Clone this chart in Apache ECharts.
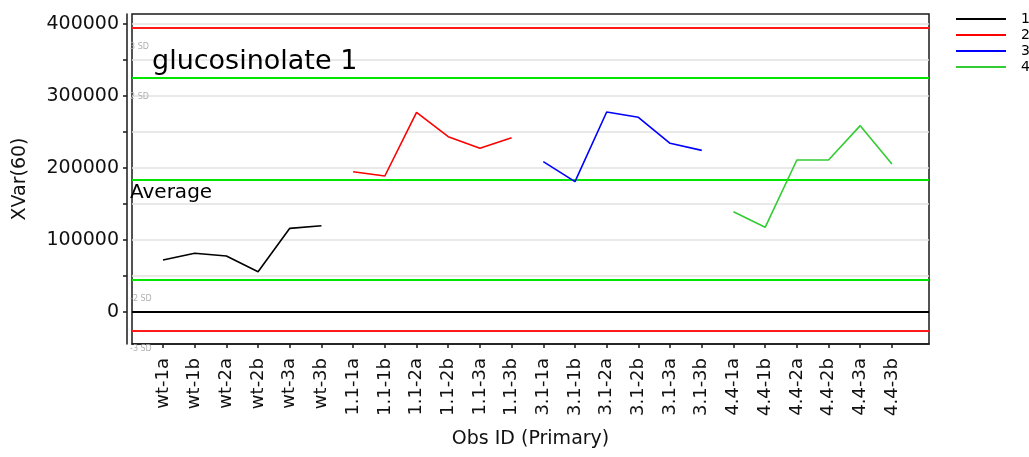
<!DOCTYPE html>
<html><head><meta charset="utf-8">
<script src="https://cdn.jsdelivr.net/npm/echarts@6/dist/echarts.min.js"></script>
<style>html,body{margin:0;padding:0;background:#fff}#c{width:1029px;height:457px}</style>
</head><body><div id="c"></div>
<script>
const categories = ['wt-1a','wt-1b','wt-2a','wt-2b','wt-3a','wt-3b',
  '1.1-1a','1.1-1b','1.1-2a','1.1-2b','1.1-3a','1.1-3b',
  '3.1-1a','3.1-1b','3.1-2a','3.1-2b','3.1-3a','3.1-3b',
  '4.4-1a','4.4-1b','4.4-2a','4.4-2b','4.4-3a','4.4-3b'];
const seriesNames = ['1','2','3','4'];
const wtValues  = [72200, 81500, 77800, 56000, 116200, 119900];
const g11Values = [194900, 188900, 277300, 243500, 227300, 242100];
const g31Values = [208800, 181000, 277800, 270400, 234300, 224500];
const g44Values = [139300, 117600, 211100, 211100, 258800, 205600];
const yLabelValues = [0, 100000, 200000, 300000, 400000];
const yTickValues = [0, 50000, 100000, 150000, 200000, 250000, 300000, 350000, 400000];
const refValues = [394400, 325000, 183300, 44400, 0, -25400];
const refLabels = ['3 SD', '2 SD', 'Average', '-2 SD', '', '-3 SD'];

const groups = [wtValues, g11Values, g31Values, g44Values];
const colors = ['#000000', '#ff0000', '#0000ff', '#33cc33'];
const refColors = ['#ff1a1a', '#00e600', '#00e600', '#00e600', '#000000', '#ff1a1a'];

const series = groups.map((vals, g) => ({
  name: seriesNames[g],
  type: 'line',
  symbol: 'none',
  silent: true,
  color: colors[g],
  lineStyle: { width: 1.6, color: colors[g] },
  data: vals.map((v, i) => [g * 6 + i, v]),
  z: 5
}));

series.push({
  name: 'ref', type: 'line', data: [], symbol: 'none', silent: true,
  markLine: {
    silent: true, symbol: ['none', 'none'], animation: false,
    data: refValues.map((v, i) => ({
      yAxis: v,
      lineStyle: { type: 'solid', width: 2, color: refColors[i] },
      label: refLabels[i] === 'Average' ? {
        show: true, formatter: refLabels[i], position: 'insideStartBottom',
        distance: [ -2, 3 ], color: '#000', fontSize: 20, fontFamily: 'DejaVu Sans'
      } : {
        show: refLabels[i] !== '', formatter: refLabels[i], position: 'insideStartBottom',
        distance: [ -2, 15 ], color: '#b0b0b0', fontSize: 8, fontFamily: 'DejaVu Sans'
      }
    }))
  },
  z: 3
});

const chart = echarts.init(document.getElementById('c'), null, { renderer: 'canvas' });
chart.setOption({
  animation: false,
  backgroundColor: '#ffffff',
  title: {
    text: 'glucosinolate 1', left: 147, top: 43,
    textStyle: { fontFamily: 'DejaVu Sans', fontSize: 27, fontWeight: 'normal', color: '#000' }
  },
  legend: {
    orient: 'vertical', left: 950, top: 7, itemWidth: 50, itemHeight: 14, itemGap: 2,
    data: seriesNames,
    itemStyle: { opacity: 0 },
    lineStyle: { width: 2 },
    textStyle: { fontSize: 14, lineHeight: 14, color: '#000', fontFamily: 'DejaVu Sans', padding: [0, 0, 0, 10] }
  },
  grid: {
    left: 132, right: 100, top: 14, bottom: 113, show: true,
    borderColor: '#1a1a1a', borderWidth: 1.5, backgroundColor: 'transparent'
  },
  xAxis: {
    type: 'value', min: -0.978, max: 24.17,
    name: 'Obs ID (Primary)', nameLocation: 'middle', nameGap: 86,
    nameTextStyle: { fontFamily: 'DejaVu Sans', fontSize: 19, color: '#111' },
    axisLine: { onZero: false, lineStyle: { color: '#1a1a1a', width: 1.5 } },
    axisTick: { customValues: categories.map((c, i) => i), length: 4, lineStyle: { color: '#1a1a1a', width: 1.5 } },
    axisLabel: {
      customValues: categories.map((c, i) => i),
      formatter: v => categories[Math.round(v)],
      rotate: 90, margin: 14, fontFamily: 'DejaVu Sans', fontSize: 18, color: '#111'
    },
    splitLine: { show: false }
  },
  yAxis: {
    type: 'value', min: -44444, max: 413889, offset: 5,
    name: 'XVar(60)', nameLocation: 'middle', nameGap: 97,
    nameTextStyle: { fontFamily: 'DejaVu Sans', fontSize: 19, color: '#111' },
    axisLine: { show: true, onZero: false, lineStyle: { color: '#1a1a1a', width: 1.5 } },
    axisTick: { show: true, customValues: yTickValues, length: 4, lineStyle: { color: '#1a1a1a', width: 1.5 } },
    axisLabel: { customValues: yLabelValues, formatter: v => String(Math.round(v)), margin: 8, fontFamily: 'DejaVu Sans', fontSize: 19, color: '#111' },
    splitLine: { show: true, lineStyle: { color: '#e2e2e2', width: 1.5 } }
  },
  series: series
});
</script></body></html>
